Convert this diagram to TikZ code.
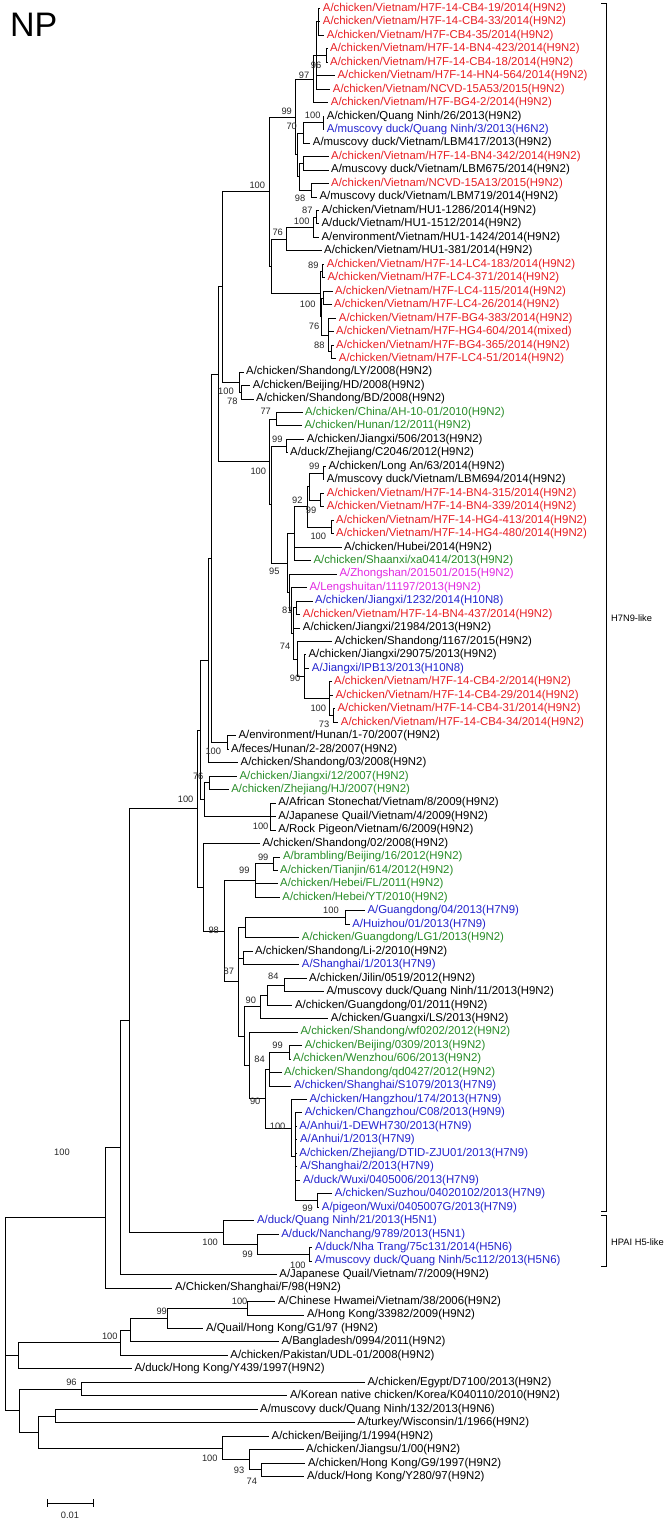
\documentclass[tikz,border=0pt]{standalone}
\usepackage{fontspec}
\setmainfont{Liberation Sans}
\usetikzlibrary{calc}
\definecolor{cr}{RGB}{232,30,35}
\definecolor{cb}{RGB}{35,35,205}
\definecolor{cg}{RGB}{40,140,40}
\definecolor{cm}{RGB}{225,40,225}
\newcommand\mkleaf[4]{\coordinate (T#1) at ({#2-2.5},{13.47*#1-5.17});
  \node[lbl,text=#3] (L#1) at (#2,{13.47*#1-5.17}) {#4};}
\newcommand\mknode[4]{\path let \p1=(#3), \p2=(#4) in ({#2pt},{(\y1+\y2)/2}) coordinate (#1);}
\begin{document}
\begin{tikzpicture}[x=1pt,y=-1pt,
  br/.style={line width=0.75pt,black},
  lbl/.style={font=\fontsize{11.4}{13}\selectfont,inner sep=0pt,anchor=west},
  bs/.style={font=\fontsize{9.3}{10}\selectfont,inner sep=0pt,text=black!85}]
\useasboundingbox (0,0) rectangle (665,1520);
\node[font=\fontsize{34}{36}\selectfont,inner sep=0pt,anchor=west] (title) at (10,25) {NP};
% leaves
\mkleaf{1}{322.7}{cr}{A/chicken/Vietnam/H7F-14-CB4-19/2014(H9N2)}
\mkleaf{2}{322.7}{cr}{A/chicken/Vietnam/H7F-14-CB4-33/2014(H9N2)}
\mkleaf{3}{326.7}{cr}{A/chicken/Vietnam/H7F-CB4-35/2014(H9N2)}
\mkleaf{4}{330}{cr}{A/chicken/Vietnam/H7F-14-BN4-423/2014(H9N2)}
\mkleaf{5}{330}{cr}{A/chicken/Vietnam/H7F-14-CB4-18/2014(H9N2)}
\mkleaf{6}{337.3}{cr}{A/chicken/Vietnam/H7F-14-HN4-564/2014(H9N2)}
\mkleaf{7}{332.7}{cr}{A/chicken/Vietnam/NCVD-15A53/2015(H9N2)}
\mkleaf{8}{330.7}{cr}{A/chicken/Vietnam/H7F-BG4-2/2014(H9N2)}
\mkleaf{9}{326.7}{black}{A/chicken/Quang Ninh/26/2013(H9N2)}
\mkleaf{10}{326.7}{cb}{A/muscovy duck/Quang Ninh/3/2013(H6N2)}
\mkleaf{11}{312.7}{black}{A/muscovy duck/Vietnam/LBM417/2013(H9N2)}
\mkleaf{12}{331}{cr}{A/chicken/Vietnam/H7F-14-BN4-342/2014(H9N2)}
\mkleaf{13}{331}{black}{A/muscovy duck/Vietnam/LBM675/2014(H9N2)}
\mkleaf{14}{331}{cr}{A/chicken/Vietnam/NCVD-15A13/2015(H9N2)}
\mkleaf{15}{319.3}{black}{A/muscovy duck/Vietnam/LBM719/2014(H9N2)}
\mkleaf{16}{321.3}{black}{A/chicken/Vietnam/HU1-1286/2014(H9N2)}
\mkleaf{17}{321.3}{black}{A/duck/Vietnam/HU1-1512/2014(H9N2)}
\mkleaf{18}{321.3}{black}{A/environment/Vietnam/HU1-1424/2014(H9N2)}
\mkleaf{19}{324}{black}{A/chicken/Vietnam/HU1-381/2014(H9N2)}
\mkleaf{20}{326.7}{cr}{A/chicken/Vietnam/H7F-14-LC4-183/2014(H9N2)}
\mkleaf{21}{327.3}{cr}{A/chicken/Vietnam/H7F-LC4-371/2014(H9N2)}
\mkleaf{22}{335}{cr}{A/chicken/Vietnam/H7F-LC4-115/2014(H9N2)}
\mkleaf{23}{334}{cr}{A/chicken/Vietnam/H7F-LC4-26/2014(H9N2)}
\mkleaf{24}{338.7}{cr}{A/chicken/Vietnam/H7F-BG4-383/2014(H9N2)}
\mkleaf{25}{336}{cr}{A/chicken/Vietnam/H7F-HG4-604/2014(mixed)}
\mkleaf{26}{336}{cr}{A/chicken/Vietnam/H7F-BG4-365/2014(H9N2)}
\mkleaf{27}{338.7}{cr}{A/chicken/Vietnam/H7F-LC4-51/2014(H9N2)}
\mkleaf{28}{246}{black}{A/chicken/Shandong/LY/2008(H9N2)}
\mkleaf{29}{252.7}{black}{A/chicken/Beijing/HD/2008(H9N2)}
\mkleaf{30}{256}{black}{A/chicken/Shandong/BD/2008(H9N2)}
\mkleaf{31}{305}{cg}{A/chicken/China/AH-10-01/2010(H9N2)}
\mkleaf{32}{304.3}{cg}{A/chicken/Hunan/12/2011(H9N2)}
\mkleaf{33}{306.7}{black}{A/chicken/Jiangxi/506/2013(H9N2)}
\mkleaf{34}{290}{black}{A/duck/Zhejiang/C2046/2012(H9N2)}
\mkleaf{35}{328.3}{black}{A/chicken/Long An/63/2014(H9N2)}
\mkleaf{36}{326.7}{black}{A/muscovy duck/Vietnam/LBM694/2014(H9N2)}
\mkleaf{37}{326.7}{cr}{A/chicken/Vietnam/H7F-14-BN4-315/2014(H9N2)}
\mkleaf{38}{326.7}{cr}{A/chicken/Vietnam/H7F-14-BN4-339/2014(H9N2)}
\mkleaf{39}{336}{cr}{A/chicken/Vietnam/H7F-14-HG4-413/2014(H9N2)}
\mkleaf{40}{336}{cr}{A/chicken/Vietnam/H7F-14-HG4-480/2014(H9N2)}
\mkleaf{41}{344}{black}{A/chicken/Hubei/2014(H9N2)}
\mkleaf{42}{313.3}{cg}{A/chicken/Shaanxi/xa0414/2013(H9N2)}
\mkleaf{43}{339.3}{cm}{A/Zhongshan/201501/2015(H9N2)}
\mkleaf{44}{309.3}{cm}{A/Lengshuitan/11197/2013(H9N2)}
\mkleaf{45}{315}{cb}{A/chicken/Jiangxi/1232/2014(H10N8)}
\mkleaf{46}{302.7}{cr}{A/chicken/Vietnam/H7F-14-BN4-437/2014(H9N2)}
\mkleaf{47}{302.7}{black}{A/chicken/Jiangxi/21984/2013(H9N2)}
\mkleaf{48}{334.3}{black}{A/chicken/Shandong/1167/2015(H9N2)}
\mkleaf{49}{308.3}{black}{A/chicken/Jiangxi/29075/2013(H9N2)}
\mkleaf{50}{311.7}{cb}{A/Jiangxi/IPB13/2013(H10N8)}
\mkleaf{51}{334}{cr}{A/chicken/Vietnam/H7F-14-CB4-2/2014(H9N2)}
\mkleaf{52}{335.3}{cr}{A/chicken/Vietnam/H7F-14-CB4-29/2014(H9N2)}
\mkleaf{53}{337.3}{cr}{A/chicken/Vietnam/H7F-14-CB4-31/2014(H9N2)}
\mkleaf{54}{340.7}{cr}{A/chicken/Vietnam/H7F-14-CB4-34/2014(H9N2)}
\mkleaf{55}{238.3}{black}{A/environment/Hunan/1-70/2007(H9N2)}
\mkleaf{56}{231}{black}{A/feces/Hunan/2-28/2007(H9N2)}
\mkleaf{57}{240.5}{black}{A/chicken/Shandong/03/2008(H9N2)}
\mkleaf{58}{239.4}{cg}{A/chicken/Jiangxi/12/2007(H9N2)}
\mkleaf{59}{231.1}{cg}{A/chicken/Zhejiang/HJ/2007(H9N2)}
\mkleaf{60}{278.2}{black}{A/African Stonechat/Vietnam/8/2009(H9N2)}
\mkleaf{61}{278.2}{black}{A/Japanese Quail/Vietnam/4/2009(H9N2)}
\mkleaf{62}{278.2}{black}{A/Rock Pigeon/Vietnam/6/2009(H9N2)}
\mkleaf{63}{262.3}{black}{A/chicken/Shandong/02/2008(H9N2)}
\mkleaf{64}{282.9}{cg}{A/brambling/Beijing/16/2012(H9N2)}
\mkleaf{65}{280}{cg}{A/chicken/Tianjin/614/2012(H9N2)}
\mkleaf{66}{280}{cg}{A/chicken/Hebei/FL/2011(H9N2)}
\mkleaf{67}{282.2}{cg}{A/chicken/Hebei/YT/2010(H9N2)}
\mkleaf{68}{367.3}{cb}{A/Guangdong/04/2013(H7N9)}
\mkleaf{69}{352.1}{cb}{A/Huizhou/01/2013(H7N9)}
\mkleaf{70}{301.7}{cg}{A/chicken/Guangdong/LG1/2013(H9N2)}
\mkleaf{71}{255}{black}{A/chicken/Shandong/Li-2/2010(H9N2)}
\mkleaf{72}{301.7}{cb}{A/Shanghai/1/2013(H7N9)}
\mkleaf{73}{309}{black}{A/chicken/Jilin/0519/2012(H9N2)}
\mkleaf{74}{326.4}{black}{A/muscovy duck/Quang Ninh/11/2013(H9N2)}
\mkleaf{75}{294.9}{black}{A/chicken/Guangdong/01/2011(H9N2)}
\mkleaf{76}{330.7}{black}{A/chicken/Guangxi/LS/2013(H9N2)}
\mkleaf{77}{300.3}{cg}{A/chicken/Shandong/wf0202/2012(H9N2)}
\mkleaf{78}{304.6}{cg}{A/chicken/Beijing/0309/2013(H9N2)}
\mkleaf{79}{293}{cg}{A/chicken/Wenzhou/606/2013(H9N2)}
\mkleaf{80}{284}{cg}{A/chicken/Shandong/qd0427/2012(H9N2)}
\mkleaf{81}{293.8}{cb}{A/chicken/Shanghai/S1079/2013(H7N9)}
\mkleaf{82}{309.3}{cb}{A/chicken/Hangzhou/174/2013(H7N9)}
\mkleaf{83}{304.6}{cb}{A/chicken/Changzhou/C08/2013(H9N9)}
\mkleaf{84}{299.2}{cb}{A/Anhui/1-DEWH730/2013(H7N9)}
\mkleaf{85}{299.9}{cb}{A/Anhui/1/2013(H7N9)}
\mkleaf{86}{299.2}{cb}{A/chicken/Zhejiang/DTID-ZJU01/2013(H7N9)}
\mkleaf{87}{299.9}{cb}{A/Shanghai/2/2013(H7N9)}
\mkleaf{88}{302.8}{cb}{A/duck/Wuxi/0405006/2013(H7N9)}
\mkleaf{89}{334.7}{cb}{A/chicken/Suzhou/04020102/2013(H7N9)}
\mkleaf{90}{321.7}{cb}{A/pigeon/Wuxi/0405007G/2013(H7N9)}
\mkleaf{91}{256.8}{cb}{A/duck/Quang Ninh/21/2013(H5N1)}
\mkleaf{92}{281.1}{cb}{A/duck/Nanchang/9789/2013(H5N1)}
\mkleaf{93}{314.8}{cb}{A/duck/Nha Trang/75c131/2014(H5N6)}
\mkleaf{94}{314.6}{cb}{A/muscovy duck/Quang Ninh/5c112/2013(H5N6)}
\mkleaf{95}{279.2}{black}{A/Japanese Quail/Vietnam/7/2009(H9N2)}
\mkleaf{96}{174.8}{black}{A/Chicken/Shanghai/F/98(H9N2)}
\mkleaf{97}{277.9}{black}{A/Chinese Hwamei/Vietnam/38/2006(H9N2)}
\mkleaf{98}{306.9}{black}{A/Hong Kong/33982/2009(H9N2)}
\mkleaf{99}{205.9}{black}{A/Quail/Hong Kong/G1/97 (H9N2)}
\mkleaf{100}{281.3}{black}{A/Bangladesh/0994/2011(H9N2)}
\mkleaf{101}{230.2}{black}{A/chicken/Pakistan/UDL-01/2008(H9N2)}
\mkleaf{102}{134.3}{black}{A/duck/Hong Kong/Y439/1997(H9N2)}
\mkleaf{103}{367.4}{black}{A/chicken/Egypt/D7100/2013(H9N2)}
\mkleaf{104}{289.9}{black}{A/Korean native chicken/Korea/K040110/2010(H9N2)}
\mkleaf{105}{260}{black}{A/muscovy duck/Quang Ninh/132/2013(H9N6)}
\mkleaf{106}{357.2}{black}{A/turkey/Wisconsin/1/1966(H9N2)}
\mkleaf{107}{271.5}{black}{A/chicken/Beijing/1/1994(H9N2)}
\mkleaf{108}{306}{black}{A/chicken/Jiangsu/1/00(H9N2)}
\mkleaf{109}{307.8}{black}{A/chicken/Hong Kong/G9/1997(H9N2)}
\mkleaf{110}{306.9}{black}{A/duck/Hong Kong/Y280/97(H9N2)}
% internal nodes
\mknode{a1}{318}{T1}{T3}
\mknode{a45}{326.5}{T4}{T5}
\mknode{a2}{316}{a1}{T7}
\mknode{a3}{313.3}{a2}{T8}
\mknode{d}{323}{T9}{T10}
\mknode{e}{303}{d}{T11}
\mknode{f}{303.3}{T12}{T13}
\mknode{g}{311.7}{T14}{T15}
\mknode{h}{299.5}{f}{g}
\mknode{c}{297}{e}{h}
\mknode{b}{295}{a3}{c}
\mknode{n1617}{316.7}{T16}{T17}
\mknode{n18}{313.3}{n1617}{T18}
\mknode{n76}{286}{n18}{T19}
\mknode{j1}{322.5}{T20}{T21}
\mknode{j2}{323.3}{T22}{T23}
\mknode{j67}{331.7}{T26}{T27}
\mknode{j3}{328.3}{T24}{j67}
\mknode{k2}{321.3}{j2}{j3}
\mknode{k}{320}{j1}{k2}
\mknode{nL}{271.7}{n76}{k}
\mknode{B1}{269.5}{b}{nL}
\mknode{m2}{241}{T29}{T30}
\mknode{m1}{239.5}{T28}{m2}
\mknode{B0}{222.3}{B1}{m1}
\mknode{o1}{276}{T31}{T32}
\mknode{o2}{286}{T33}{T34}
\mknode{r1}{323}{T35}{T36}
\mknode{r2}{320}{T37}{T38}
\mknode{r3}{309.3}{r1}{r2}
\mknode{r4}{331.5}{T39}{T40}
\mknode{r5}{307.3}{r3}{r4}
\mknode{r6}{294.7}{r5}{T42}
\mknode{t1}{296}{T45}{T46}
\mknode{u1}{333}{T53}{T54}
\mknode{u}{329.3}{T51}{u1}
\mknode{v}{304}{T49}{u}
\mknode{w}{297.3}{T48}{v}
\mknode{s2}{293}{t1}{w}
\mknode{s1}{291}{T44}{s2}
\mknode{s}{289.3}{T43}{s1}
\mknode{r7}{287.3}{r6}{s}
\mknode{r8}{271.7}{o2}{r7}
\mknode{o3}{269.3}{o1}{r8}
\mknode{nZ}{218.3}{B0}{o3}
\mknode{p1}{227}{T55}{T56}
\mknode{nW}{211.7}{nZ}{p1}
\mknode{nV}{208.7}{nW}{T57}
\mknode{q1}{209.7}{T58}{T59}
\mknode{q2}{270.2}{T60}{T62}
\mknode{q3}{204.3}{q1}{q2}
\mknode{X1}{200.5}{nV}{q3}
\mknode{n6465}{273.1}{T64}{T65}
\mknode{aa}{255.5}{n6465}{T67}
\mknode{ff}{345.6}{T68}{T69}
\mknode{ee}{244.9}{ff}{T70}
\mknode{gg}{243.8}{T71}{T72}
\mknode{jj}{284}{T73}{T74}
\mknode{kk}{267.3}{jj}{T75}
\mknode{ll}{260.4}{kk}{T76}
\mknode{pp1}{289.1}{T78}{T79}
\mknode{pp}{269.5}{pp1}{T81}
\mknode{rr}{317.3}{T89}{T90}
\mknode{ss}{295.2}{T83}{rr}
\mknode{qq}{291.2}{T82}{ss}
\mknode{oo}{265.5}{pp}{qq}
\mknode{nn}{249.2}{T77}{oo}
\mknode{mm}{244.1}{ll}{nn}
\mknode{hh}{238.7}{ee}{mm}
\mknode{cc}{223.9}{aa}{hh}
\mknode{tt}{203.2}{T63}{cc}
\mknode{H7}{197}{X1}{tt}
\mknode{h4}{309.7}{T93}{T94}
\mknode{h3}{257.6}{T92}{h4}
\mknode{h2}{223.8}{T91}{h3}
\mknode{nP}{129}{H7}{h2}
\mknode{nQ}{120.3}{nP}{T95}
\mknode{nS}{105}{nQ}{T96}
\mknode{nA}{247.2}{T97}{T98}
\mknode{nB}{167.1}{nA}{T99}
\mknode{nC}{130}{nB}{T100}
\mknode{nD}{120.6}{nC}{T101}
\mknode{nE}{17.9}{nD}{T102}
\mknode{nF}{81}{T103}{T104}
\mknode{n105}{55.4}{T105}{T106}
\mknode{G3}{260.9}{T109}{T110}
\mknode{G2}{249.4}{T108}{G3}
\mknode{nG}{222.5}{T107}{G2}
\mknode{nH}{38.4}{n105}{nG}
\mknode{nI}{19.2}{nF}{nH}
\mknode{nR}{5}{nS}{nI}
% branches
\foreach \p/\c in {a1/T1,a1/T2,a1/T3,a45/T4,a45/T5,a2/a1,a2/a45,a2/T6,a2/T7,a3/a2,a3/T8,
 d/T9,d/T10,e/d,e/T11,f/T12,f/T13,g/T14,g/T15,h/f,h/g,c/e,c/h,b/a3,b/c,
 n1617/T16,n1617/T17,n18/n1617,n18/T18,n76/n18,n76/T19,j1/T20,j1/T21,j2/T22,j2/T23,
 j67/T26,j67/T27,j3/T24,j3/T25,j3/j67,k2/j2,k2/j3,k/j1,k/k2,nL/n76,nL/k,B1/b,B1/nL,
 m2/T29,m2/T30,m1/T28,m1/m2,B0/B1,B0/m1,o1/T31,o1/T32,o2/T33,o2/T34,
 r1/T35,r1/T36,r2/T37,r2/T38,r3/r1,r3/r2,r4/T39,r4/T40,r5/r3,r5/r4,r6/r5,r6/T41,r6/T42,
 t1/T45,t1/T46,u1/T53,u1/T54,u/T51,u/T52,u/u1,v/T49,v/T50,v/u,w/T48,w/v,
 s2/t1,s2/T47,s2/w,s1/T44,s1/s2,s/T43,s/s1,r7/r6,r7/s,r8/o2,r8/r7,o3/o1,o3/r8,
 nZ/B0,nZ/o3,p1/T55,p1/T56,nW/nZ,nW/p1,nV/nW,nV/T57,q1/T58,q1/T59,q2/T60,q2/T61,q2/T62,
 q3/q1,q3/q2,X1/nV,X1/q3,n6465/T64,n6465/T65,aa/n6465,aa/T66,aa/T67,ff/T68,ff/T69,
 ee/ff,ee/T70,gg/T71,gg/T72,jj/T73,jj/T74,kk/jj,kk/T75,ll/kk,ll/T76,pp1/T78,pp1/T79,
 pp/pp1,pp/T80,pp/T81,rr/T89,rr/T90,ss/T83,ss/T84,ss/T85,ss/T86,ss/T87,ss/T88,ss/rr,
 qq/T82,qq/ss,oo/pp,oo/qq,nn/T77,nn/oo,mm/ll,mm/nn,hh/ee,hh/gg,hh/mm,cc/aa,cc/hh,
 tt/T63,tt/cc,H7/X1,H7/tt,h4/T93,h4/T94,h3/T92,h3/h4,h2/T91,h2/h3,nP/H7,nP/h2,
 nQ/nP,nQ/T95,nS/nQ,nS/T96,nA/T97,nA/T98,nB/nA,nB/T99,nC/nB,nC/T100,nD/nC,nD/T101,
 nE/nD,nE/T102,nF/T103,nF/T104,n105/T105,n105/T106,G3/T109,G3/T110,G2/T108,G2/G3,
 nG/T107,nG/G2,nH/n105,nH/nG,nI/nF,nI/nH,nR/nS,nR/nE,nR/nI}
 {\draw[br] (\p) |- (\c);}
% bootstrap values
\foreach \i/\xy/\t in {1/{316,65}/96,2/{304,75}/97,3/{286.7,111.7}/99,4/{312.7,115}/100,5/{291.7,126}/70,
 6/{300,198.3}/98,7/{307.3,210}/87,8/{301.7,221.7}/100,9/{277.7,232.3}/76,10/{257.3,185}/100,
 11/{313.3,265}/89,12/{307.7,304}/100,13/{314,326}/76,14/{319.3,345}/88,15/{226,391.7}/100,
 16/{232.3,401.7}/78,17/{265.7,411}/77,18/{277.3,439}/99,19/{258.3,471.7}/100,20/{314.3,466.7}/99,
 21/{297.3,500}/92,22/{311,510}/99,23/{318.3,536.7}/100,24/{274.3,571.7}/95,25/{287.3,610}/81,
 26/{285,646.7}/74,27/{295,678.3}/90,28/{318.3,708.3}/100,29/{324,724}/73,30/{213.3,751}/100,
 31/{198.2,776}/76,32/{185.6,799.3}/100,33/{260.6,826.7}/100,34/{263.2,857.3}/99,35/{244.4,870}/99,
 36/{331,910}/100,37/{213.7,930}/98,38/{228.9,971.7}/87,39/{273.3,976.7}/84,40/{250.9,1000}/90,
 41/{259.6,1059.3}/84,42/{277.6,1045}/99,43/{255.2,1101.7}/90,44/{277.6,1126.7}/100,45/{307.6,1208.3}/99,
 46/{210.1,1242.3}/100,47/{247.5,1254}/99,48/{297.9,1265}/100,49/{239.6,1301.7}/100,50/{161.7,1311.7}/99,
 51/{109.8,1336}/100,52/{71.5,1382.7}/96,53/{209.8,1458.3}/100,54/{239.1,1470}/93,55/{251.9,1481.7}/74,
 56/{62,1152}/100}
 {\node[bs] (bs\i) at (\xy) {\t};}
% clade brackets
\coordinate (k1a) at (601,3); \coordinate (k1b) at (606.5,3);
\coordinate (k1c) at (606.5,1211); \coordinate (k1d) at (601,1211);
\draw[br] (k1a) -- (k1b) -- (k1c) -- (k1d);
\coordinate (k2a) at (601,1215); \coordinate (k2b) at (606.5,1215);
\coordinate (k2c) at (606.5,1266); \coordinate (k2d) at (601,1266);
\draw[br] (k2a) -- (k2b) -- (k2c) -- (k2d);
\node[font=\fontsize{9.3}{10}\selectfont,inner sep=0pt,anchor=west] (cl1) at (611,618) {H7N9-like};
\node[font=\fontsize{9.3}{10}\selectfont,inner sep=0pt,anchor=west] (cl2) at (611,1242) {HPAI H5-like};
% scale bar
\coordinate (sb1) at (47,1503); \coordinate (sb2) at (93,1503);
\draw[br] (sb1) -- (sb2);
\draw[br] ([yshift=4pt]sb1) -- ([yshift=-4pt]sb1);
\draw[br] ([yshift=4pt]sb2) -- ([yshift=-4pt]sb2);
\node[bs] (sbl) at (70,1515) {0.01};
\end{tikzpicture}
\end{document}
